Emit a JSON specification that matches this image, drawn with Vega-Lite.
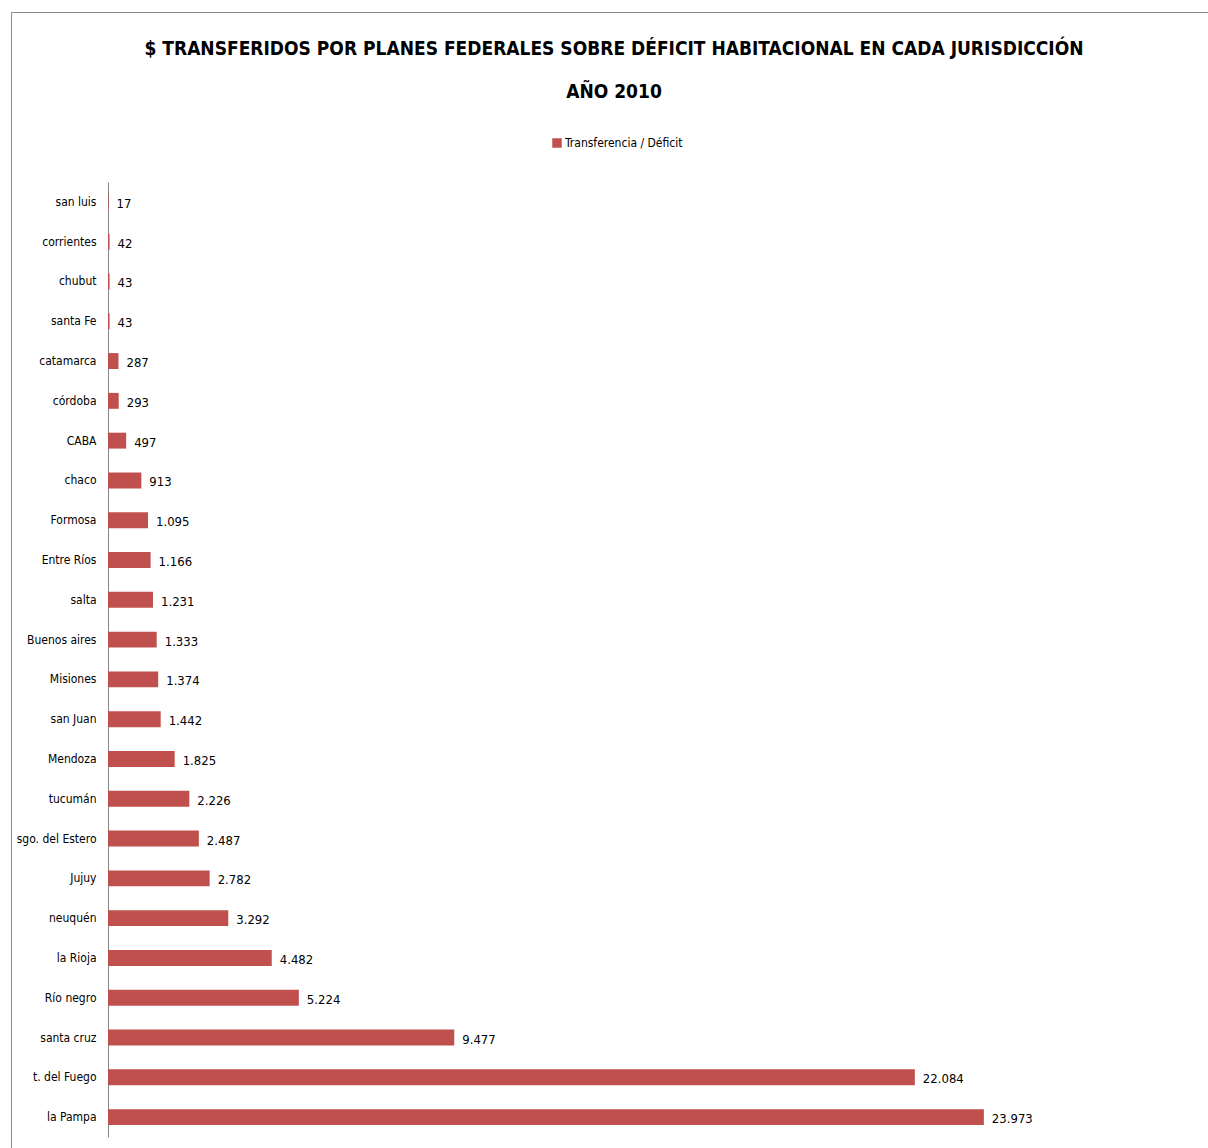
{
  "$schema": "https://vega.github.io/schema/vega-lite/v6.json",
  "autosize": {"type": "none"},
  "padding": {"left": 11, "top": 12, "right": 0, "bottom": 0},
  "width": 1200,
  "height": 1140,
  "background": "#ffffff",
  "config": {
    "font": "DejaVu Sans Condensed, sans-serif",
    "view": {"stroke": "#8c8c8c", "strokeWidth": 1},
    "locale": {"number": {"decimal": ",", "thousands": ".", "grouping": [3], "currency": ["$", ""]}}
  },
  "title": {
    "text": ["$ TRANSFERIDOS POR PLANES FEDERALES SOBRE DÉFICIT HABITACIONAL EN CADA JURISDICCIÓN", "AÑO 2010"],
    "anchor": "middle",
    "dx": 3,
    "offset": -90,
    "fontSize": 19,
    "fontWeight": "bold",
    "lineHeight": 43,
    "color": "#000000"
  },
  "data": {
    "values": [
      {"provincia": "san luis", "valor": 17},
      {"provincia": "corrientes", "valor": 42},
      {"provincia": "chubut", "valor": 43},
      {"provincia": "santa Fe", "valor": 43},
      {"provincia": "catamarca", "valor": 287},
      {"provincia": "córdoba", "valor": 293},
      {"provincia": "CABA", "valor": 497},
      {"provincia": "chaco", "valor": 913},
      {"provincia": "Formosa", "valor": 1095},
      {"provincia": "Entre Ríos", "valor": 1166},
      {"provincia": "salta", "valor": 1231},
      {"provincia": "Buenos aires", "valor": 1333},
      {"provincia": "Misiones", "valor": 1374},
      {"provincia": "san Juan", "valor": 1442},
      {"provincia": "Mendoza", "valor": 1825},
      {"provincia": "tucumán", "valor": 2226},
      {"provincia": "sgo. del Estero", "valor": 2487},
      {"provincia": "Jujuy", "valor": 2782},
      {"provincia": "neuquén", "valor": 3292},
      {"provincia": "la Rioja", "valor": 4482},
      {"provincia": "Río negro", "valor": 5224},
      {"provincia": "santa cruz", "valor": 9477},
      {"provincia": "t. del Fuego", "valor": 22084},
      {"provincia": "la Pampa", "valor": 23973}
    ]
  },
  "encoding": {
    "y": {
      "field": "provincia",
      "type": "nominal",
      "sort": null,
      "scale": {"range": [170, 1125], "paddingInner": 0.6, "paddingOuter": 0.3},
      "axis": {
        "title": null,
        "orient": "left",
        "offset": -97,
        "ticks": false,
        "labelPadding": 12,
        "labelFontSize": 12,
        "labelColor": "#000000",
        "domainColor": "#868686",
        "domainWidth": 1
      }
    },
    "x": {
      "field": "valor",
      "type": "quantitative",
      "scale": {"domain": [-2655, 30190], "nice": false, "zero": false},
      "axis": null
    }
  },
  "layer": [
    {
      "mark": {"type": "bar", "color": "#C0504D"},
      "encoding": {
        "x2": {"datum": 0},
        "color": {
          "datum": "Transferencia / Déficit",
          "type": "nominal",
          "scale": {"range": ["#C0504D"]},
          "legend": {
            "title": null,
            "orient": "none",
            "legendX": 540,
            "legendY": 125,
            "symbolType": "square",
            "symbolSize": 90,
            "symbolStrokeWidth": 0,
            "labelFontSize": 12,
            "labelColor": "#000000",
            "labelOffset": 2
          }
        }
      }
    },
    {
      "mark": {"type": "text", "align": "left", "baseline": "middle", "dx": 8, "dy": 2, "fontSize": 13, "color": "#000000"},
      "encoding": {
        "text": {"field": "valor", "type": "quantitative", "format": ",d"}
      }
    }
  ]
}
